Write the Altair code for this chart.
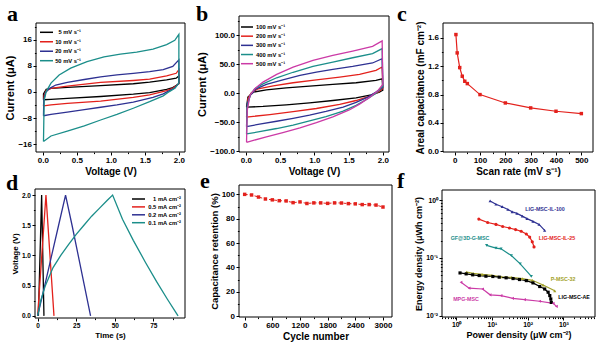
import altair as alt
import pandas as pd

FONT = "Liberation Sans"
SERIF = "Liberation Serif"
BLACK = "#000000"
RED = "#e3211c"
BLUE = "#2e3192"
TEAL = "#1b8e8a"
MAGENTA = "#cb3aa6"
OLIVE = "#a2a12a"

# ---------------- Panel a : CV curves, low scan rates ----------------
a_labels = ["5 mV s⁻¹", "10 mV s⁻¹", "20 mV s⁻¹", "50 mV s⁻¹"]
a_colors = [BLACK, RED, BLUE, TEAL]
a_v_5 = [0.01, 0.01, 0.05, 0.12, 0.36, 0.85, 1.33, 1.57, 1.82, 1.96, 2.0, 2.0, 1.91, 1.82, 1.57, 1.33, 0.85, 0.36, 0.12, 0.01]
a_i_5 = [-2.4, -0.6, 0.8, 1.1, 1.4, 1.9, 2.5, 3.0, 3.7, 4.2, 4.9, 2.5, 1.3, 0.8, -0.2, -0.7, -1.4, -2.0, -2.3, -2.4]
a_v_10 = [0.01, 0.02, 0.05, 0.12, 0.36, 0.85, 1.33, 1.57, 1.82, 1.96, 2.0, 2.0, 1.91, 1.82, 1.57, 1.33, 0.85, 0.36, 0.12, 0.01]
a_i_10 = [-4.3, -1.0, 0.4, 1.1, 1.8, 2.9, 3.5, 3.9, 4.9, 5.7, 6.8, 2.5, 1.1, 0.4, -0.9, -1.7, -2.8, -3.5, -4.0, -4.3]
a_v_20 = [0.01, 0.015, 0.04, 0.10, 0.19, 0.36, 0.61, 0.85, 1.09, 1.33, 1.57, 1.77, 1.91, 2.0,
          2.0, 1.94, 1.86, 1.77, 1.62, 1.33, 1.09, 0.85, 0.61, 0.36, 0.12, 0.01]
a_i_20 = [-7.3, -2.5, -0.2, 1.1, 2.1, 2.9, 3.8, 4.6, 5.2, 5.7, 6.2, 6.8, 7.8, 9.8,
          2.7, 1.2, 0.4, -0.6, -1.7, -3.1, -4.0, -4.7, -5.4, -6.2, -6.9, -7.3]
a_v_50 = [0.01, 0.02, 0.05, 0.12, 0.24, 0.41, 0.65, 0.90, 1.14, 1.38, 1.62, 1.82, 1.94, 2.0,
          2.0, 1.94, 1.86, 1.77, 1.57, 1.33, 1.09, 0.85, 0.61, 0.36, 0.12, 0.01]
a_i_50 = [-15.2, -2.5, 0.1, 2.7, 5.2, 7.3, 9.3, 10.7, 11.6, 12.2, 13.1, 14.5, 15.8, 17.6,
          2.7, 1.1, 0.1, -1.2, -3.0, -5.0, -6.9, -8.6, -10.4, -12.0, -13.5, -15.2]

# ---------------- Panel b : CV curves, high scan rates ----------------
b_labels = ["100 mV s⁻¹", "200 mV s⁻¹", "300 mV s⁻¹", "400 mV s⁻¹", "500 mV s⁻¹"]
b_colors = [BLACK, RED, BLUE, TEAL, MAGENTA]
b_v_100 = [0.01, 0.03, 0.11, 0.30, 0.59, 0.93, 1.27, 1.61, 1.90, 1.99, 2.0, 1.95, 1.83, 1.61, 1.27, 0.93, 0.59, 0.25, 0.01]
b_i_100 = [-24.2, -6.9, 1.7, 5.8, 9.2, 12.1, 15.0, 17.9, 21.9, 24.8, 5.0, 1.7, -2.9, -8.1, -12.7, -16.7, -20.2, -23.0, -24.2]
b_v_200 = [0.01, 0.03, 0.08, 0.18, 0.40, 0.69, 1.03, 1.37, 1.66, 1.90, 1.99, 2.0, 1.93, 1.81, 1.61, 1.37, 1.03, 0.69, 0.35, 0.11, 0.01]
b_i_200 = [-41.5, -9.8, 0.6, 7.5, 12.7, 17.9, 23.0, 27.7, 32.3, 39.2, 45.0, 8.0, 1.7, -5.2, -12.7, -19.5, -26.5, -32.0, -37.0, -40.0, -41.5]
b_v_300 = [0.01, 0.02, 0.07, 0.15, 0.30, 0.54, 0.79, 1.03, 1.27, 1.56, 1.85, 1.99, 2.0, 1.90, 1.78, 1.61, 1.42, 1.17, 0.93, 0.69, 0.45, 0.20, 0.01]
b_i_300 = [-57.6, -18.4, -2.9, 7.5, 15.0, 23.0, 30.5, 36.3, 41.0, 46.0, 52.0, 59.4, 10.0, 1.7, -6.9, -16.0, -24.0, -31.5, -38.0, -43.5, -48.5, -53.5, -57.6]
b_v_400 = [0.01, 0.02, 0.06, 0.13, 0.25, 0.45, 0.69, 0.98, 1.27, 1.56, 1.85, 1.99, 2.0, 1.90, 1.78, 1.61, 1.42, 1.17, 0.93, 0.69, 0.45, 0.20, 0.01]
b_i_400 = [-70.3, -24.0, -4.0, 7.5, 16.0, 26.5, 36.0, 46.0, 53.6, 61.0, 68.0, 76.7, 12.0, 0.0, -9.8, -21.0, -31.0, -40.5, -48.0, -55.0, -61.0, -66.5, -70.3]
b_v_500 = [0.01, 0.02, 0.06, 0.13, 0.25, 0.45, 0.69, 0.98, 1.27, 1.56, 1.85, 1.99, 2.0, 1.93, 1.81, 1.66, 1.51, 1.27, 1.03, 0.79, 0.54, 0.30, 0.11, 0.01]
b_i_500 = [-84.7, -30.0, -4.0, 7.5, 19.0, 32.3, 45.0, 56.5, 65.0, 72.6, 80.7, 90.0, 15.0, 4.6, -6.9, -19.0, -29.0, -41.0, -51.0, -60.0, -68.0, -75.5, -81.5, -84.7]

# ---------------- Panel c : areal capacitance vs scan rate ----------------
c_rate = [5, 10, 20, 30, 40, 50, 100, 200, 300, 400, 500]
c_cap = [1.647, 1.388, 1.181, 1.059, 0.988, 0.955, 0.80, 0.682, 0.612, 0.565, 0.532]

# ---------------- Panel d : charge/discharge ----------------
d_labels = ["1 mA cm⁻²", "0.5 mA cm⁻²", "0.2 mA cm⁻²", "0.1 mA cm⁻²"]
d_colors = [BLACK, RED, BLUE, TEAL]
d_t_1 = [0.5, 2.6, 4.1]
d_v_1 = [0.0, 2.0, 0.0]
d_t_05 = [0.0, 5.4, 10.6]
d_v_05 = [0.0, 2.0, 0.0]
d_t_02 = [0.0, 4.6, 9.1, 13.6, 18.1, 22.3, 26.3, 30.3, 34.3]
d_v_02 = [0.0, 0.5, 1.0, 1.5, 2.0, 1.5, 1.0, 0.5, 0.0]
d_t_01 = [0.0, 2.0, 5.0, 10.0, 15.0, 20.0, 25.0, 30.0, 35.0, 40.0, 45.0, 48.6, 55.0, 62.0, 70.0, 77.0, 84.0, 91.0]
d_v_01 = [0.0, 0.25, 0.5, 0.8, 1.0, 1.18, 1.35, 1.5, 1.65, 1.78, 1.91, 2.0, 1.6, 1.25, 0.88, 0.57, 0.28, 0.0]

# ---------------- Panel e : cycling ----------------
e_cycle = [0, 150, 300, 450, 600, 750, 900, 1050, 1200, 1350, 1500, 1650, 1800, 1950, 2100, 2250, 2400, 2550, 2700, 2850, 3000]
e_ret = [100, 99.5, 97.8, 96.2, 95.5, 94.8, 94.6, 93.2, 93.8, 92.5, 93.0, 93.0, 92.6, 93.0, 92.9, 92.4, 92.2, 91.6, 91.6, 91.2, 89.6]

# ---------------- Panel f : Ragone plot ----------------
f_labels = ["LIG-MSC-IL-100", "LIG-MSC-IL-25", "GF@3D-G-MSC", "P-MSC-32", "LIG-MSC-AE", "MPG-MSC"]
f_colors = [BLUE, RED, TEAL, OLIVE, BLACK, MAGENTA]
f_shapes = ["triangle-up", "circle", "triangle-down", "triangle-up", "square", "triangle-left"]
f_p_il100 = [8.9, 13, 19.4, 28, 37, 50, 71, 96, 141, 209, 300]
f_e_il100 = [0.97, 0.85, 0.77, 0.69, 0.63, 0.59, 0.53, 0.48, 0.43, 0.38, 0.30]
f_p_il25 = [4.3, 7.6, 13, 20, 31, 46, 66, 92, 114, 135, 151]
f_e_il25 = [0.47, 0.41, 0.38, 0.35, 0.33, 0.31, 0.29, 0.26, 0.23, 0.19, 0.155]
f_p_gf = [7.1, 13, 18, 35, 62, 127]
f_e_gf = [0.165, 0.148, 0.144, 0.11, 0.079, 0.048]
f_p_pmsc = [1.95, 3.0, 5.3, 10, 18, 35, 71, 135, 270, 575]
f_e_pmsc = [0.057, 0.054, 0.052, 0.050, 0.047, 0.046, 0.044, 0.041, 0.034, 0.027]
f_p_ae = [1.28, 1.9, 2.9, 4.4, 6.8, 10.6, 16, 25, 39, 59, 92, 141, 218, 300, 375, 417, 445, 460]
f_e_ae = [0.055, 0.053, 0.051, 0.0496, 0.0483, 0.0477, 0.0465, 0.0453, 0.044, 0.0423, 0.0405, 0.037, 0.032, 0.029, 0.0255, 0.0223, 0.0195, 0.017]
f_p_mpg = [1.36, 2.3, 5.5, 8.9, 18, 38, 82, 218, 520, 640]
f_e_mpg = [0.038, 0.030, 0.029, 0.023, 0.0223, 0.020, 0.019, 0.0178, 0.0164, 0.0145]
# label anchors (data coordinates)
f_lab_p = [307, 665, 2.44, 980, 2000, 1.88]
f_lab_e = [0.705, 0.222, 0.222, 0.0433, 0.0211, 0.0195]


def series_df(labels, xs, ys):
    rows = []
    for lab, xv, yv in zip(labels, xs, ys):
        for k, (x, y) in enumerate(zip(xv, yv)):
            rows.append({"s": lab, "k": k, "x": x, "y": y})
    return pd.DataFrame(rows)


def major(orient, off, values, fmt=None, title=None, lsize=8, tsize=10, tpad=2, expr=None):
    kw = dict(orient=orient, offset=off, values=values, domain=False, grid=False, ticks=True,
              tickSize=3, tickColor="black", tickWidth=1, labelFont=FONT, labelFontWeight="bold",
              labelFontSize=lsize, labelColor="black", labelPadding=1.5, labelOverlap=False,
              labelFlush=False, titleFont=FONT, titleFontWeight="bold", titleFontSize=tsize,
              titleColor="black", titlePadding=tpad, title=title)
    if fmt is not None:
        kw["format"] = fmt
    if expr is not None:
        kw["labelExpr"] = expr
    return alt.Axis(**kw)


def minor(orient, off, values):
    return alt.Axis(orient=orient, offset=off, values=values, labels=False, domain=False,
                    grid=False, tickSize=1.6, tickColor="black", tickWidth=1, title=None)


def panel(xs, ys, xdom, ydom, xax, yax, xmin_ax, ymin_ax, layers):
    fdf = pd.DataFrame({"x0": [xdom[0]], "x1": [xdom[1]], "y0": [ydom[0]], "y1": [ydom[1]]})
    frame = alt.Chart(fdf).mark_rect(fillOpacity=0, stroke="black", strokeWidth=1).encode(
        x=alt.X("x0:Q", scale=xs, axis=xax), x2=alt.X2(field="x1"),
        y=alt.Y("y0:Q", scale=ys, axis=yax), y2=alt.Y2(field="y1"))
    mframe = alt.Chart(fdf).mark_rect(opacity=0).encode(
        x=alt.X("x0:Q", scale=xs, axis=xmin_ax), x2=alt.X2(field="x1"),
        y=alt.Y("y0:Q", scale=ys, axis=ymin_ax), y2=alt.Y2(field="y1"))
    return alt.layer(frame, mframe, *layers).resolve_axis(x="independent", y="independent")


def lines(df, xs, ys, labels, colors, width=1.3):
    return alt.Chart(df).mark_line(strokeWidth=width).encode(
        x=alt.X("x:Q", scale=xs, axis=None), y=alt.Y("y:Q", scale=ys, axis=None),
        color=alt.Color("s:N", scale=alt.Scale(domain=labels, range=colors), legend=None),
        order=alt.Order("k:Q"))


def legend(labels, colors, x0, x1, xt, align, ytop, ybot, size=5.8):
    df = pd.DataFrame({"s": labels, "i": list(range(len(labels)))})
    yy = alt.Y("i:Q", scale=alt.Scale(domain=[0, len(labels) - 1], range=[ytop, ybot]), axis=None)
    rule = alt.Chart(df).mark_rule(strokeWidth=1.5).encode(
        x=alt.value(x0), x2=alt.value(x1), y=yy,
        color=alt.Color("s:N", scale=alt.Scale(domain=labels, range=colors), legend=None))
    text = alt.Chart(df).mark_text(align=align, baseline="middle", font=FONT, fontWeight="bold",
                                   fontSize=size, color="black").encode(x=alt.value(xt), y=yy, text="s:N")
    return alt.layer(rule, text)


H = 349

# ---- a
a_xdom, a_ydom = [-0.1, 2.09], [-18.4, 21.1]
a_xs = alt.Scale(domain=a_xdom, range=[36, 185], nice=False, zero=False)
a_ys = alt.Scale(domain=a_ydom, range=[152, 23], nice=False, zero=False)
a_df = series_df(a_labels, [a_v_5, a_v_10, a_v_20, a_v_50], [a_i_5, a_i_10, a_i_20, a_i_50])
pa = panel(a_xs, a_ys, a_xdom, a_ydom,
           major("bottom", 152 - H, [0, 0.5, 1.0, 1.5, 2.0], ".1f", "Voltage (V)"),
           major("left", -36, [-16, -8, 0, 8, 16], "d", "Current (μA)", tsize=11),
           minor("bottom", 152 - H, [0.25, 0.75, 1.25, 1.75]),
           minor("left", -36, [-12, -4, 4, 12, 20]),
           [lines(a_df, a_xs, a_ys, a_labels, a_colors)])

# ---- b
b_xdom, b_ydom = [-0.1, 2.09], [-101.5, 133]
b_xs = alt.Scale(domain=b_xdom, range=[239, 389], nice=False, zero=False)
b_ys = alt.Scale(domain=b_ydom, range=[152, 16], nice=False, zero=False)
b_df = series_df(b_labels, [b_v_100, b_v_200, b_v_300, b_v_400, b_v_500],
                 [b_i_100, b_i_200, b_i_300, b_i_400, b_i_500])
pb = panel(b_xs, b_ys, b_xdom, b_ydom,
           major("bottom", 152 - H, [0, 0.5, 1.0, 1.5, 2.0], ".1f", "Voltage (V)"),
           major("left", -239, [-100, -50, 0, 50, 100], ".1f", "Current (μA)", tsize=11),
           minor("bottom", 152 - H, [0.25, 0.75, 1.25, 1.75]),
           minor("left", -239, [-75, -25, 25, 75, 125]),
           [lines(b_df, b_xs, b_ys, b_labels, b_colors)])

# ---- c
c_xdom, c_ydom = [-46, 546], [-0.01, 1.81]
c_xs = alt.Scale(domain=c_xdom, range=[443, 593], nice=False, zero=False)
c_ys = alt.Scale(domain=c_ydom, range=[152, 23], nice=False, zero=False)
c_df = pd.DataFrame({"x": c_rate, "y": c_cap})
c_line = alt.Chart(c_df).mark_line(color=RED, strokeWidth=1.2).encode(
    x=alt.X("x:Q", scale=c_xs, axis=None), y=alt.Y("y:Q", scale=c_ys, axis=None))
c_pts = alt.Chart(c_df).mark_point(shape="square", filled=True, color=RED, size=12, opacity=1).encode(
    x=alt.X("x:Q", scale=c_xs, axis=None), y=alt.Y("y:Q", scale=c_ys, axis=None))
pc = panel(c_xs, c_ys, c_xdom, c_ydom,
           major("bottom", 152 - H, [0, 100, 200, 300, 400, 500], "d", "Scan rate (mV s⁻¹)"),
           major("left", -443, [0, 0.4, 0.8, 1.2, 1.6], ".1f", "Areal capacitance (mF cm⁻²)"),
           minor("bottom", 152 - H, [50, 150, 250, 350, 450]),
           minor("left", -443, [0.2, 0.6, 1.0, 1.4]),
           [c_line, c_pts])

# ---- d
d_xdom, d_ydom = [-1.7, 95.5], [-0.035, 2.1]
d_xs = alt.Scale(domain=d_xdom, range=[35, 185], nice=False, zero=False)
d_ys = alt.Scale(domain=d_ydom, range=[318, 189], nice=False, zero=False)
d_df = series_df(d_labels, [d_t_1, d_t_05, d_t_02, d_t_01], [d_v_1, d_v_05, d_v_02, d_v_01])
pd_ = panel(d_xs, d_ys, d_xdom, d_ydom,
            major("bottom", 318 - H, [0, 25, 50, 75], "d", "Time (s)", lsize=6.5, tsize=8),
            major("left", -35, [0, 0.5, 1.0, 1.5, 2.0], ".1f", "Voltage (V)", lsize=6.5, tsize=8),
            minor("bottom", 318 - H, [12.5, 37.5, 62.5, 87.5]),
            minor("left", -35, [0.25, 0.75, 1.25, 1.75]),
            [lines(d_df, d_xs, d_ys, d_labels, d_colors)])

# ---- e
e_xdom, e_ydom = [-123, 3196], [-0.8, 107.7]
e_xs = alt.Scale(domain=e_xdom, range=[239, 392], nice=False, zero=False)
e_ys = alt.Scale(domain=e_ydom, range=[317, 185], nice=False, zero=False)
e_df = pd.DataFrame({"x": e_cycle, "y": e_ret})
e_line = alt.Chart(e_df).mark_line(color=RED, strokeWidth=1.0, strokeDash=[3, 2]).encode(
    x=alt.X("x:Q", scale=e_xs, axis=None), y=alt.Y("y:Q", scale=e_ys, axis=None))
e_pts = alt.Chart(e_df).mark_point(shape="square", filled=True, color=RED, size=12, opacity=1).encode(
    x=alt.X("x:Q", scale=e_xs, axis=None), y=alt.Y("y:Q", scale=e_ys, axis=None))
pe = panel(e_xs, e_ys, e_xdom, e_ydom,
           major("bottom", 317 - H, [0, 600, 1200, 1800, 2400, 3000], "d", "Cycle number"),
           major("left", -239, [0, 20, 40, 60, 80, 100], "d", "Capacitance retention (%)", tsize=9.5),
           minor("bottom", 317 - H, [300, 900, 1500, 2100, 2700]),
           minor("left", -239, [10, 30, 50, 70, 90]),
           [e_line, e_pts])

# ---- f
f_xdom, f_ydom = [0.4, 7700], [0.0095, 1.5]
f_xs = alt.Scale(type="log", domain=f_xdom, range=[442, 595], nice=False)
f_ys = alt.Scale(type="log", domain=f_ydom, range=[317, 190], nice=False)
f_df = series_df(f_labels, [f_p_il100, f_p_il25, f_p_gf, f_p_pmsc, f_p_ae, f_p_mpg],
                 [f_e_il100, f_e_il25, f_e_gf, f_e_pmsc, f_e_ae, f_e_mpg])
f_color = alt.Color("s:N", scale=alt.Scale(domain=f_labels, range=f_colors), legend=None)
f_line = alt.Chart(f_df).mark_line(strokeWidth=1.2).encode(
    x=alt.X("x:Q", scale=f_xs, axis=None), y=alt.Y("y:Q", scale=f_ys, axis=None),
    color=f_color, order=alt.Order("k:Q"))
f_pts = alt.Chart(f_df).mark_point(filled=True, size=10, opacity=1).encode(
    x=alt.X("x:Q", scale=f_xs, axis=None), y=alt.Y("y:Q", scale=f_ys, axis=None),
    color=f_color, shape=alt.Shape("s:N", scale=alt.Scale(domain=f_labels, range=f_shapes), legend=None))
f_lab_df = pd.DataFrame({"s": f_labels, "x": f_lab_p, "y": f_lab_e})
f_text = alt.Chart(f_lab_df).mark_text(font=FONT, fontWeight="bold", fontSize=5.3, align="center",
                                       baseline="middle").encode(
    x=alt.X("x:Q", scale=f_xs, axis=None), y=alt.Y("y:Q", scale=f_ys, axis=None),
    color=f_color, text="s:N")
fx_minor = [m * d for d in [0.1, 1, 10, 100, 1000] for m in range(2, 10) if 0.4 <= m * d <= 7700]
fy_minor = [m * d for d in [0.01, 0.1] for m in range(2, 10)]
pf = panel(f_xs, f_ys, f_xdom, f_ydom,
           major("bottom", 317 - H, [1, 10, 100, 1000], None, "Power density (μW cm⁻²)", lsize=6.8, tsize=9,
                 expr="datum.value == 1 ? '10⁰' : datum.value == 10 ? '10¹' : datum.value == 100 ? '10²' : '10³'"),
           major("left", -442, [0.01, 0.1, 1], None, "Energy density (μWh cm⁻²)", lsize=6.8, tsize=9,
                 expr="datum.value < 0.05 ? '10⁻²' : datum.value < 0.5 ? '10⁻¹' : '10⁰'"),
           minor("bottom", 317 - H, fx_minor),
           minor("left", -442, fy_minor),
           [f_line, f_pts, f_text])

# ---- legends
lg_a = legend(a_labels, a_colors, 40, 53, 81, "right", 32.3, 60.7)
lg_b = legend(b_labels, b_colors, 241, 253, 256, "left", 27, 63.7)
lg_d = legend(d_labels, d_colors, 132, 145, 181, "right", 199, 222.7)

# ---- panel letters
letters = ["a", "b", "c", "d", "e", "f"]
letter_x = [7, 196, 397, 6, 200, 397]
letter_y = [21, 21, 21, 190, 188, 188]
one = pd.DataFrame({"z": [0]})
letter_layers = [
    alt.Chart(one).mark_text(text=t, font=SERIF, fontWeight="bold", fontSize=22, align="left",
                             baseline="alphabetic", color="black").encode(x=alt.value(lx), y=alt.value(ly))
    for t, lx, ly in zip(letters, letter_x, letter_y)
]

chart = alt.layer(pa, pb, pc, pd_, pe, pf, lg_a, lg_b, lg_d, *letter_layers).resolve_scale(
    x="independent", y="independent", color="independent", shape="independent"
).properties(
    width=600, height=349, autosize=alt.AutoSizeParams(type="none"), padding=0,
    background="white"
).configure_view(stroke=None)

chart.save("out.html", embed_options={"renderer": "svg", "actions": False})
